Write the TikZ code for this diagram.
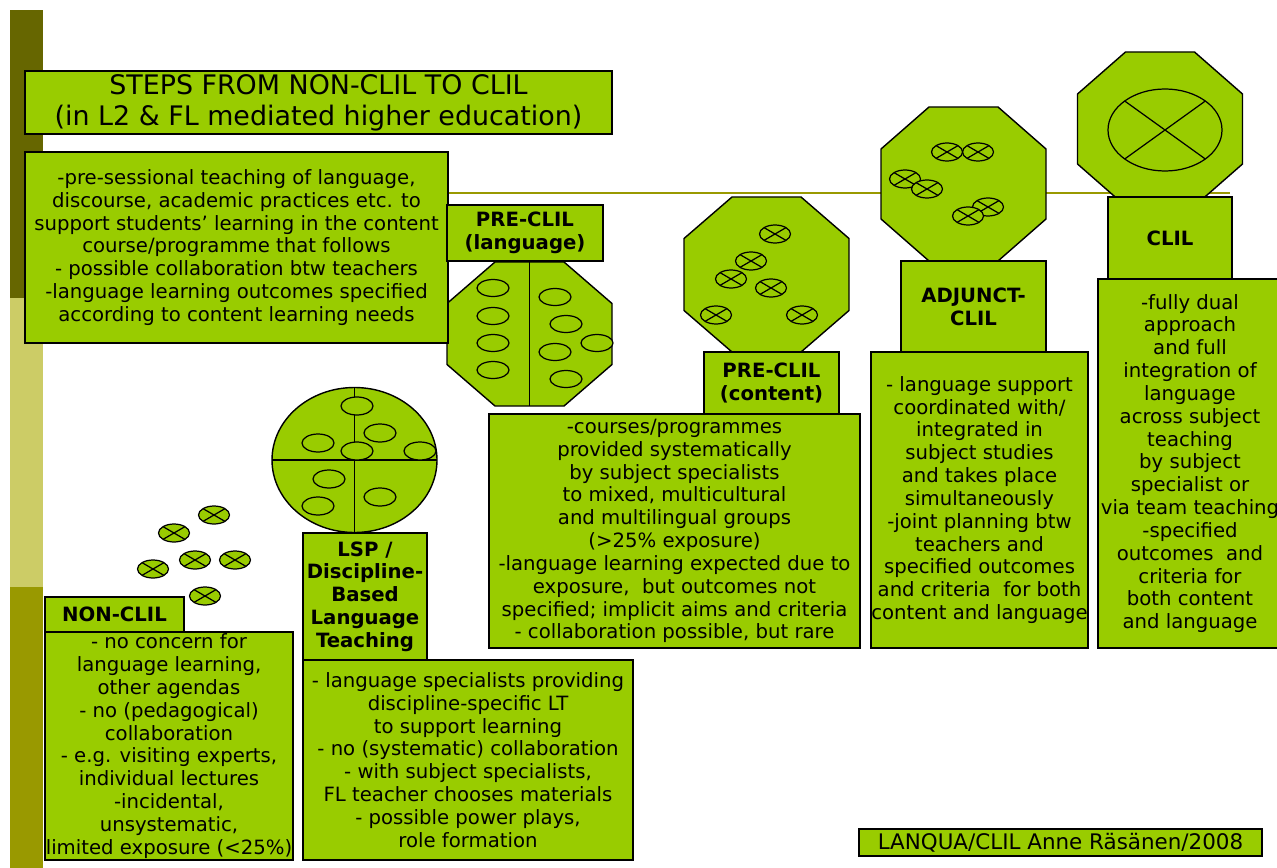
\documentclass[tikz,border=0pt]{standalone}
\usepackage{fontspec}
\setmainfont{DejaVu Sans}
\usepackage{tikz}
\definecolor{clilgreen}{HTML}{99CC00}
\definecolor{bardark}{HTML}{666600}
\definecolor{barlight}{HTML}{CCCC66}
\definecolor{barolive}{HTML}{999900}
\tikzset{
	% Boxes: green fill, black border, text centred
	green box/.style={draw=black,line width=0.8pt,fill=clilgreen,inner sep=0pt,align=center,font=\fontsize{11.2}{13}\selectfont},
	step label/.style={green box,font=\bfseries\fontsize{11.2}{13}\selectfont},
	% Box from its corners, in pixels of the picture
	corners/.style n args={4}{at={({(#1+#3)/2},{(#2+#4)/2})},minimum width={(#3-#1)*0.02cm},minimum height={(#4-#2)*0.02cm}},
	% Shapes drawn by hand: octagons, circle, ellipses
	green shape/.style={draw=black,line width=0.8pt,fill=clilgreen},
	thin line/.style={draw=black,line width=0.7pt}
}
% octagon: centre x, centre y, half height, half side
\newcommand{\octa}[4]{\draw[green shape] (#1-82.5,#2-#4) -- (#1-82.5,#2+#4) -- (#1-34.5,#2+#3) -- (#1+34.5,#2+#3) -- (#1+82.5,#2+#4) -- (#1+82.5,#2-#4) -- (#1+34.5,#2-#3) -- (#1-34.5,#2-#3) -- cycle;}
% crossed ellipse: centre x, centre y, x radius, y radius
\newcommand{\xell}[4]{\draw[thin line,fill=clilgreen] (#1,#2) ellipse [x radius=#3,y radius=#4];
	\draw[thin line] (#1,#2) +(45:#3 and #4) -- +(225:#3 and #4) (#1,#2) +(135:#3 and #4) -- +(315:#3 and #4);}
% plain ellipse: centre x, centre y
\newcommand{\oell}[2]{\draw[thin line,fill=clilgreen] (#1,#2) ellipse [x radius=16,y radius=8.5];}

\begin{document}
\begin{tikzpicture}[x=0.02cm,y=-0.02cm]
	\fill[white] (0,0) rectangle (1277,868);
	\useasboundingbox (0,0) rectangle (1277,868);
	% Side bar and rule
	\fill[bardark] (10,10) rectangle (43,298);
	\fill[barlight] (10,298) rectangle (43,587);
	\fill[barolive] (10,587) rectangle (43,868);
	\draw[barolive,line width=1.7pt] (43,193) -- (1230,193);

	% Free crossed ellipses (NON-CLIL)
	\xell{214}{515}{15.5}{9} \xell{174}{533}{15.5}{9} \xell{195}{560}{15.5}{9}
	\xell{235}{560}{15.5}{9} \xell{153}{569}{15.5}{9} \xell{205}{596}{15.5}{9}

	% LSP circle
	\draw[green shape] (354.5,460) ellipse [x radius=82.5,y radius=72.5];
	\draw[thin line] (272,460) -- (437,460) (354.5,387.5) -- (354.5,532.5);
	\foreach \ex/\ey in {357/406,380/433,318/443,357/451,420/451,329/479,380/497,318/506}
		\draw[thin line,fill=clilgreen] (\ex,\ey) ellipse [x radius=16,y radius=9];

	% PRE-CLIL (language) octagon
	\octa{529.5}{334}{72}{30.5}
	\draw[thin line] (529.5,262) -- (529.5,406);
	\foreach \ey in {288,316,343,370} \oell{493}{\ey};
	\oell{555}{297} \oell{566}{324} \oell{555}{352} \oell{566}{379} \oell{597}{343}

	% PRE-CLIL (content) octagon
	\octa{766.5}{274.5}{77.5}{36}
	\xell{775}{234}{15.5}{9} \xell{751}{261}{15.5}{9} \xell{731}{279}{15.5}{9}
	\xell{771}{288}{15.5}{9} \xell{716}{315}{15.5}{9} \xell{802}{315}{15.5}{9}

	% ADJUNCT-CLIL octagon
	\octa{963.5}{184}{77}{35}
	\xell{947}{152}{15.5}{9} \xell{978}{152}{15.5}{9} \xell{905}{179}{15.5}{9}
	\xell{927}{189}{15.5}{9} \xell{988}{207}{15.5}{9} \xell{968}{216}{15.5}{9}

	% CLIL octagon
	\octa{1160}{129}{77}{35}
	\xell{1165}{130}{57}{41}

	% Title
	\node[green box,corners={25}{71}{612}{134},font=\fontsize{15.3}{17.8}\selectfont] (title)
		{STEPS FROM NON-CLIL TO CLIL\\(in L2 \& FL mediated higher education)};

	% Steps: label box and text box
	\node[step label,corners={45}{597}{184}{632}] (nonclil) {NON-CLIL};
	\node[green box,corners={45}{632}{293}{860}] (nonclil-text)
		{- no concern for\\language learning,\\other agendas\\- no (pedagogical)\\collaboration\\- e.g. visiting experts,\\individual lectures\\-incidental,\\unsystematic,\\limited exposure (<25\%)};

	\node[step label,corners={303}{533}{427}{660}] (lsp) {LSP /\\Discipline-\\Based\\Language\\Teaching};
	\node[green box,corners={303}{660}{633}{860}] (lsp-text)
		{- language specialists providing\\discipline-specific LT\\to support learning\\- no (systematic) collaboration\\- with subject specialists,\\FL teacher chooses materials\\- possible power plays,\\role formation};

	\node[green box,corners={25}{152}{448}{343}] (prelang-text)
		{-pre-sessional teaching of language,\\discourse, academic practices etc. to\\support students’ learning in the content\\course/programme that follows\\- possible collaboration btw teachers\\-language learning outcomes specified\\according to content learning needs};
	\node[step label,corners={447}{205}{603}{261}] (prelang) {PRE-CLIL\\(language)};

	\node[step label,corners={704}{352}{839}{414}] (precont) {PRE-CLIL\\(content)};
	\node[green box,corners={489}{414}{860}{648}] (precont-text)
		{-courses/programmes\\provided systematically\\by subject specialists\\to mixed, multicultural\\and multilingual groups\\(>25\% exposure)\\-language learning expected due to\\exposure,\ \ but outcomes not\\specified; implicit aims and criteria\\- collaboration possible, but rare};

	\node[step label,corners={901}{261}{1046}{352}] (adjunct) {ADJUNCT-\\CLIL};
	\node[green box,corners={871}{352}{1088}{648}] (adjunct-text)
		{- language support\\coordinated with/\\integrated in\\subject studies\\and takes place\\simultaneously\\-joint planning btw\\teachers and\\specified outcomes\\and criteria\ \ for both\\content and language};

	\node[step label,corners={1108}{197}{1232}{279}] (clil) {CLIL};
	\node[green box,corners={1098}{279}{1282}{648}] (clil-text)
		{-fully dual\\approach\\and full\\integration of\\language\\across subject\\teaching\\by subject\\specialist or\\via team teaching\\-specified\\outcomes\ \ and\\criteria for\\both content\\and language};

	% Source
	\node[green box,corners={859}{829}{1262}{856},font=\fontsize{12.2}{14}\selectfont] (source) {LANQUA/CLIL Anne Räsänen/2008};
\end{tikzpicture}
\end{document}
